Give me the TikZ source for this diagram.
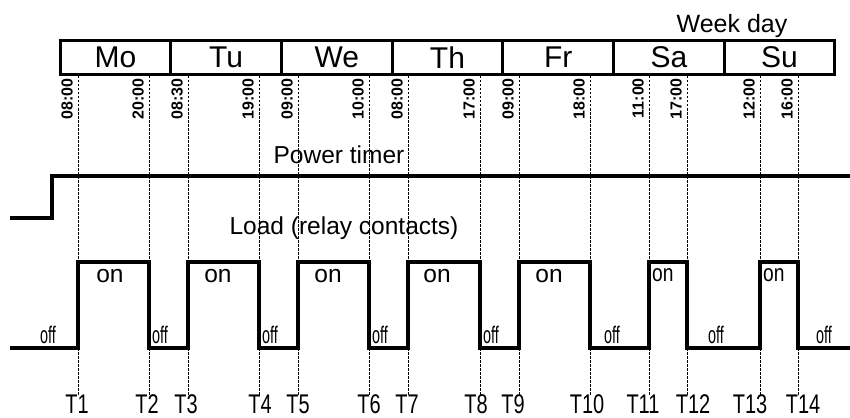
\documentclass[tikz,border=0pt]{standalone}
\usepackage{fontspec}
\setmainfont{Liberation Sans}
\newfontfamily\offfont{Liberation Sans}[FakeStretch=0.6]
\newfontfamily\narrowfont{Liberation Sans}[FakeStretch=0.8]
\newfontfamily\tfont{Liberation Sans}[FakeStretch=0.74]
\usetikzlibrary{positioning}

\begin{document}
\begin{tikzpicture}[x=1pt, y=-1pt,
    daybox/.style={draw, line width=3pt, minimum width=110.7pt, minimum height=34pt, inner sep=0pt, font=\fontsize{30}{30}\selectfont},
    timeline/.style={line width=1pt, dash pattern=on 2.5pt off 1.5pt},
    signal/.style={line width=3.7pt},
    hour/.style={rotate=90, anchor=south east, inner sep=0pt, font=\bfseries\fontsize{16}{16}\selectfont},
    lbl/.style={anchor=base, inner sep=0pt, font=\fontsize{24.5}{24.5}\selectfont},
    smallon/.style={anchor=base west, inner sep=0pt, font=\narrowfont\fontsize{24}{24}\selectfont},
    offlbl/.style={anchor=base, inner sep=0pt, font=\offfont\fontsize{24}{24}\selectfont},
    tlbl/.style={anchor=base, inner sep=0pt, font=\tfont\fontsize{27}{27}\selectfont}]
  \useasboundingbox (0,0) rectangle (850,417);
  % time marks
  \foreach \x/\h/\t [count=\i] in {78/08:00/77,149/20:00/147,188/08:30/186,259/19:00/260,298/09:00/298,369/10:00/369,408/08:00/407,480/17:00/476,519/09:00/513,590/18:00/587,649/11:00/643,687/17:00/693,760/12:00/750,798/16:00/803}{
    \coordinate (top\i) at (\x,76);
    \coordinate (bot\i) at (\x,395);
    \draw[timeline] (top\i) -- (bot\i);
    \node[hour] (h\i) at (\x-5,78) {\h};
    \node[tlbl] (T\i) at (\t,413) {T\i};
  };
  % week days
  \node[lbl, font=\fontsize{25}{25}\selectfont] (weekday) at (732,33) {Week day};
  \foreach \d [count=\i] in {Mo,Tu,We,Th,Fr,Sa,Su}
    \node[daybox] (\d) at ({60+110.7*(\i-0.5)},57.5) {\d};
  % power timer
  \node[lbl] (power) at (339,163) {Power timer};
  \draw[line width=4pt] (10,218) -- (52,218) |- (850,176);
  % load
  \node[lbl] (load) at (344,234) {Load (relay contacts)};
  \draw[signal] (10,348) \foreach \a/\b in {78/149,188/259,298/369,408/480,519/590,649/687,760/798}{
    -- (\a,348) -- (\a,262) -- (\b,262) -- (\b,348) } -- (850,348);
  \foreach \x in {110,218,328,437,549}
    \node[lbl] (on\x) at (\x,282) {on};
  \node[smallon] (onsa) at (652,281) {on};
  \node[smallon] (onsu) at (763,281) {on};
  \node[offlbl] (off0) at (48,343) {off};
  \foreach \x in {152,262,372,483}
    \node[offlbl, anchor=base west] (off\x) at (\x,343) {off};
  \foreach \x in {612,716,824}
    \node[offlbl] (off\x) at (\x,343) {off};
\end{tikzpicture}
\end{document}
